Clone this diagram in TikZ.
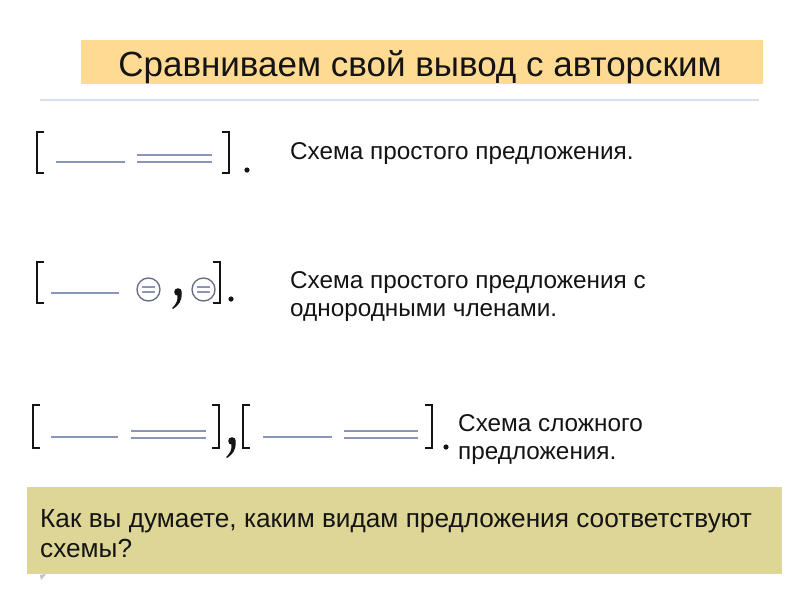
\documentclass[tikz,border=0pt]{standalone}
\usepackage{fontspec}
\setmainfont{Liberation Sans}
\definecolor{titlefill}{RGB}{255,218,146}
\definecolor{askfill}{RGB}{222,214,150}
\definecolor{schemeline}{RGB}{140,148,184}
\definecolor{circline}{RGB}{100,106,130}
\definecolor{rulecol}{RGB}{214,224,236}
\definecolor{ink}{RGB}{20,20,20}
\tikzset{
  brk/.style={draw=ink,line width=1.4pt},
  sline/.style={draw=schemeline,line width=2pt},
  circ/.style={draw=circline,line width=1.3pt},
  dotp/.style={fill=ink},
  lbl/.style={anchor=base west,inner sep=0pt,text=ink,font=\fontsize{24.3}{28}\selectfont},
  ask/.style={inner sep=0pt,anchor=base west,text=ink,font=\fontsize{26.2}{31}\selectfont},
}
\newcommand{\lbrk}[3]{\draw[brk] (#1+7,#2) -- (#1,#2) -- (#1,#3) -- (#1+7,#3);}
\newcommand{\rbrk}[3]{\draw[brk] (#1-7,#2) -- (#1,#2) -- (#1,#3) -- (#1-7,#3);}
\newcommand{\dline}[3]{\draw[sline] (#1,#3) -- (#2,#3); \draw[sline] (#1,#3+7) -- (#2,#3+7);}
\newcommand{\bigcomma}[2]{\fill[ink] (#1,#2) circle (3.8);
  \fill[ink] (#1+3.6,#2+1) .. controls (#1+4,#2+9) and (#1+1,#2+13) .. (#1-5,#2+17) -- (#1-5.8,#2+16) .. controls (#1-1.5,#2+12) and (#1,#2+8) .. (#1-0.5,#2+3) -- cycle;}
\begin{document}
\begin{tikzpicture}[x=1pt,y=-1pt]
\useasboundingbox (0,0) rectangle (800,600);
\fill[white] (0,0) rectangle (800,600);
% title
\fill[titlefill] (81,40) rectangle (763,84);
\node[inner sep=0pt,text=ink,font=\fontsize{35}{40}\selectfont,anchor=base] (title) at (420,76) {Сравниваем свой вывод с авторским};
\draw[rulecol,line width=2pt] (40,100) -- (759,100);
% scheme 1
\lbrk{37}{132}{173}
\draw[sline] (56,162) -- (125,162);
\dline{137}{212}{155}
\rbrk{229}{132}{173}
\fill[dotp] (247,170) circle (2.6);
\node[lbl] (t1) at (290,159) {Схема простого предложения.};
% scheme 2
\lbrk{37}{262}{303}
\draw[sline] (51,293) -- (119,293);
\draw[circ] (148.5,289.5) circle (11.5);
\draw[sline,line width=1.8pt] (142,287) -- (155,287) (142,292) -- (155,292);
\bigcomma{178}{292}
\draw[circ] (203.5,289.5) circle (11.5);
\draw[sline,line width=1.8pt] (197,287) -- (210,287) (197,292) -- (210,292);
\rbrk{220}{262}{303}
\fill[dotp] (231,299) circle (2.6);
\node[lbl] (t2) at (290,288) {Схема простого предложения с};
\node[lbl] (t2b) at (290,316) {однородными членами.};
% scheme 3
\lbrk{33}{405}{448}
\draw[sline] (51,437) -- (118,437);
\dline{131}{206}{431}
\rbrk{219}{405}{448}
\bigcomma{232}{441}
\lbrk{243}{405}{448}
\draw[sline] (263,437) -- (332,437);
\dline{344}{418}{431}
\rbrk{432}{405}{448}
\fill[dotp] (446,447) circle (2.6);
\node[lbl] (t3) at (458,431) {Схема сложного};
\node[lbl] (t3b) at (458,459) {предложения.};
% question box
\fill[askfill] (27,487) rectangle (782,574);
\node[ask] (q1) at (40,527) {Как вы думаете, каким видам предложения соответствуют};
\node[ask] (q2) at (40,557) {схемы?};
\fill[rulecol!70!gray] (40,575) -- (46,574) -- (41,580) -- cycle;
\end{tikzpicture}
\end{document}
